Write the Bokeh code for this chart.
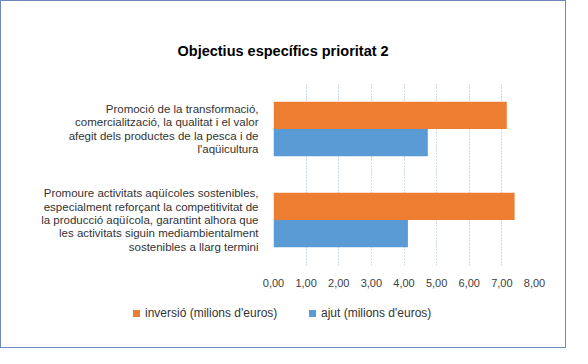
from bokeh.plotting import figure
from bokeh.models import ColumnDataSource, FactorRange, Range1d, FixedTicker, Title, Div
from bokeh.layouts import column
from bokeh.transform import dodge
from bokeh.embed import file_html
from bokeh.resources import INLINE

# ---- data (bottom to top) ----
categories = [
    "Promoure activitats aqüícoles sostenibles,\nespecialment reforçant la competitivitat de\nla producció aqüícola, garantint alhora que\nles activitats siguin mediambientalment\nsostenibles a llarg termini",
    "Promoció de la transformació,\ncomercialització, la qualitat i el valor\nafegit dels productes de la pesca i de\nl'aqüicultura",
]
inversio = [7.39, 7.15]
ajut = [4.12, 4.73]
series_names = ["inversió (milions d'euros)", "ajut (milions d'euros)"]
tick_values = [0, 1, 2, 3, 4, 5, 6, 7, 8]
tick_labels = ["0,00", "1,00", "2,00", "3,00", "4,00", "5,00", "6,00", "7,00", "8,00"]

ORANGE = "#ED7D31"
BLUE = "#5B9BD5"
FONT = "Liberation Sans"

src = ColumnDataSource(dict(cat=categories, inversio=inversio, ajut=ajut))

# ---------- main chart ----------
p = figure(
    width=564, height=291,
    y_range=FactorRange(*categories, range_padding=0),
    x_range=Range1d(0, 8),
    output_backend="svg", toolbar_location=None,
    min_border_left=272, min_border_right=31,
    min_border_top=82, min_border_bottom=27,
)
p.outline_line_color = None
p.background_fill_color = "white"
p.border_fill_color = "white"

p.hbar(y=dodge("cat", 0.15, range=p.y_range), right="inversio", left=0, height=0.30,
       source=src, color=ORANGE, line_color=None)
p.hbar(y=dodge("cat", -0.15, range=p.y_range), right="ajut", left=0, height=0.30,
       source=src, color=BLUE, line_color=None)

p.title = Title(text="Objectius específics prioritat 2", align="left", offset=-96,
                text_font=FONT, text_font_size="14.5px", text_font_style="bold",
                text_color="#000000", vertical_align="bottom", standoff=50)

p.xaxis.ticker = FixedTicker(ticks=tick_values)
p.xaxis.major_label_overrides = {v: s for v, s in zip(tick_values, tick_labels)}
p.xaxis.axis_line_color = None
p.xaxis.major_tick_line_color = None
p.xaxis.minor_tick_line_color = None
p.xaxis.major_label_text_font = FONT
p.xaxis.major_label_text_font_size = "11px"
p.xaxis.major_label_text_color = "#404040"
p.xaxis.major_label_standoff = 7

p.yaxis.axis_line_color = None
p.yaxis.major_tick_line_color = None
p.yaxis.major_label_text_font = FONT
p.yaxis.major_label_text_font_size = "11.5px"
p.yaxis.major_label_text_color = "#333333"
p.yaxis.major_label_standoff = 9
p.yaxis.major_label_text_line_height = 1.12

p.xgrid.grid_line_color = "#9fb1cf"
p.xgrid.grid_line_dash = "1 2"
p.xgrid.grid_line_width = 1
p.ygrid.grid_line_color = None

# ---------- legend strip ----------
legend_colors = [ORANGE, BLUE]
swatch_left = [132, 308]
text_left = [144, 320]
parts = []
for name, col, sl, tl in zip(series_names, legend_colors, swatch_left, text_left):
    parts.append(
        f'<span style="position:absolute;left:{sl}px;top:18px;width:7px;height:7px;'
        f'background:{col};"></span>'
        f'<span style="position:absolute;left:{tl}px;top:14px;line-height:14px;'
        f'white-space:nowrap;">{name}</span>'
    )
html = (f'<div style="position:relative;width:564px;height:55px;'
        f'font-family:\'{FONT}\';font-size:12px;color:#333333;">' + "".join(parts) + '</div>')
leg = Div(text=html, width=564, height=55, margin=0)

layout = column(p, leg, spacing=0, styles={"border": "1px solid #7089bd"})
open("out.html", "w").write(file_html(layout, INLINE))
